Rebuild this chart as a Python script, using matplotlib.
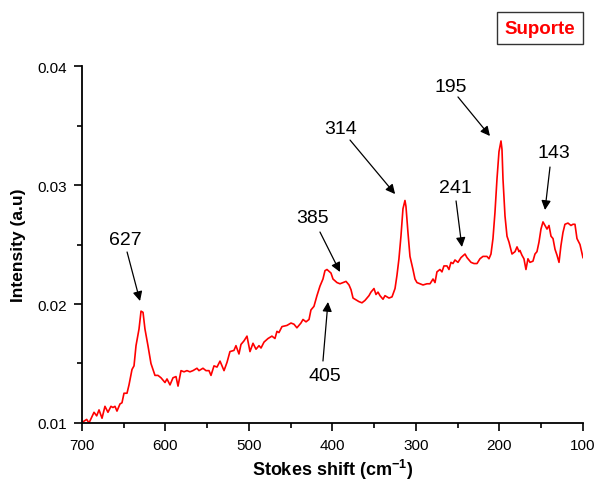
import matplotlib
matplotlib.use('Agg')
import matplotlib.pyplot as plt
import numpy as np

plt.rcParams['font.family'] = ['Liberation Sans', 'DejaVu Sans']
plt.rcParams['mathtext.fontset'] = 'custom'
plt.rcParams['mathtext.rm'] = 'Liberation Sans'
plt.rcParams['mathtext.bf'] = 'Liberation Sans:bold'

# spectrum
shift = [698.8, 694.4, 691.6, 685.6, 682.4, 679.6, 676.0, 672.5, 668.9, 665.3,
         662.9, 660.5, 658.1, 654.5, 652.1, 649.7, 646.1, 643.7, 640.1, 637.7,
         635.3, 631.7, 629.3, 626.9, 624.6, 621.0, 617.4, 615.0, 612.6, 609.0,
         605.4, 600.6, 598.2, 594.6, 591.0, 587.4, 585.0, 581.4, 577.8, 574.3,
         570.7, 567.1, 562.3, 559.9, 555.1, 551.5, 547.9, 545.5, 541.9, 538.3,
         534.7, 529.9, 526.3, 522.8, 518.0, 515.6, 512.0, 509.6, 506.0, 502.4,
         498.8, 495.2, 491.6, 488.0, 485.6, 482.0, 477.2, 472.5, 468.9, 466.5,
         464.1, 460.5, 454.5, 449.7, 446.1, 442.6, 437.8, 435.3, 431.7, 428.1,
         425.8, 422.2, 418.6, 415.0, 411.4, 409.0, 406.6, 401.8, 399.4, 394.6,
         391.0, 387.4, 383.8, 380.2, 377.8, 375.4, 370.7, 368.3, 364.7, 361.1,
         356.3, 353.9, 350.3, 347.9, 345.5, 343.1, 339.5, 337.1, 332.3, 328.7,
         325.1, 322.8, 320.4, 318.0, 315.6, 313.2, 312.0, 309.6, 307.2, 303.6,
         301.2, 298.8, 295.2, 291.6, 286.8, 283.2, 279.6, 277.2, 274.9, 271.3,
         268.9, 266.5, 262.9, 260.5, 258.1, 255.7, 253.3, 249.7, 246.1, 241.3,
         238.9, 234.1, 230.5, 226.9, 223.4, 219.8, 215.0, 212.6, 210.2, 207.8,
         205.4, 203.0, 200.6, 198.2, 197.0, 195.8, 193.4, 191.0, 188.6, 185.0,
         181.4, 179.0, 176.6, 175.5, 173.1, 170.7, 168.3, 165.9, 163.5, 159.9,
         157.5, 155.1, 152.7, 150.3, 147.9, 145.5, 143.1, 140.7, 138.3, 135.9,
         133.5, 131.1, 128.7, 126.4, 124.0, 121.6, 118.0, 114.4, 112.0, 109.6,
         107.2, 103.6, 100.0]
intensity = [0.0101, 0.0103, 0.0100, 0.0109, 0.0106, 0.0111, 0.0104, 0.0114, 0.0109, 0.0114,
             0.0113, 0.0114, 0.0110, 0.0116, 0.0117, 0.0125, 0.0125, 0.0132, 0.0145, 0.0148,
             0.0165, 0.0179, 0.0194, 0.0193, 0.0179, 0.0165, 0.0150, 0.0145, 0.0140, 0.0140,
             0.0138, 0.0134, 0.0137, 0.0132, 0.0138, 0.0139, 0.0131, 0.0144, 0.0143, 0.0144,
             0.0143, 0.0144, 0.0146, 0.0144, 0.0146, 0.0144, 0.0144, 0.0140, 0.0148, 0.0147,
             0.0152, 0.0144, 0.0151, 0.0160, 0.0161, 0.0165, 0.0158, 0.0166, 0.0169, 0.0173,
             0.0160, 0.0167, 0.0162, 0.0165, 0.0163, 0.0168, 0.0171, 0.0173, 0.0171, 0.0177,
             0.0176, 0.0181, 0.0182, 0.0184, 0.0183, 0.0180, 0.0184, 0.0187, 0.0185, 0.0187,
             0.0195, 0.0198, 0.0207, 0.0215, 0.0221, 0.0228, 0.0229, 0.0226, 0.0221, 0.0218,
             0.0217, 0.0218, 0.0219, 0.0216, 0.0212, 0.0205, 0.0203, 0.0202, 0.0201, 0.0203,
             0.0207, 0.0210, 0.0213, 0.0208, 0.0210, 0.0207, 0.0204, 0.0207, 0.0205, 0.0206,
             0.0213, 0.0224, 0.0238, 0.0257, 0.0280, 0.0287, 0.0282, 0.0260, 0.0240, 0.0229,
             0.0221, 0.0218, 0.0217, 0.0216, 0.0217, 0.0217, 0.0221, 0.0218, 0.0227, 0.0229,
             0.0227, 0.0232, 0.0232, 0.0229, 0.0235, 0.0234, 0.0237, 0.0235, 0.0239, 0.0242,
             0.0239, 0.0235, 0.0234, 0.0234, 0.0238, 0.0240, 0.0240, 0.0238, 0.0242, 0.0255,
             0.0277, 0.0305, 0.0328, 0.0337, 0.0330, 0.0305, 0.0274, 0.0257, 0.0252, 0.0242,
             0.0244, 0.0248, 0.0244, 0.0245, 0.0241, 0.0238, 0.0229, 0.0238, 0.0235, 0.0236,
             0.0242, 0.0244, 0.0252, 0.0263, 0.0269, 0.0266, 0.0263, 0.0266, 0.0257, 0.0255,
             0.0246, 0.0241, 0.0235, 0.0249, 0.0260, 0.0267, 0.0268, 0.0266, 0.0267, 0.0267,
             0.0255, 0.0250, 0.0239]

# peak labels: text position, arrow tail, arrow tip
labels = ['627', '385', '405', '314', '241', '195', '143']
text_xy = [(648.5, 0.02546), (423.4, 0.02731), (409.0, 0.01403), (389.8, 0.03479),
           (253.0, 0.02975), (258.0, 0.03832), (134.7, 0.03277)]
tail_xy = [(646.0, 0.02437), (415.0, 0.02605), (411.4, 0.01521), (379.0, 0.03378),
           (252.0, 0.02866), (249.7, 0.03740), (139.5, 0.03151)]
tip_xy = [(630.5, 0.02025), (391.0, 0.02269), (405.4, 0.02017), (325.0, 0.02924),
          (245.0, 0.02479), (211.4, 0.03412), (145.5, 0.02790)]

fig = plt.figure(figsize=(5.95, 4.85), dpi=100)
ax = fig.add_axes([0.1378, 0.1258, 0.842, 0.736])

ax.plot(shift, intensity, color='red', lw=1.2)

ax.set_xlim(700, 100)
ax.set_ylim(0.01, 0.04)
ax.set_xticks([700, 600, 500, 400, 300, 200, 100])
ax.set_xticks([650, 550, 450, 350, 250, 150], minor=True)
ax.set_yticks([0.01, 0.02, 0.03, 0.04])
ax.set_yticks([0.015, 0.025, 0.035], minor=True)
ax.set_yticklabels(['0.01', '0.02', '0.03', '0.04'])

for s in ['top', 'right']:
    ax.spines[s].set_visible(False)
for s in ['left', 'bottom']:
    ax.spines[s].set_linewidth(1.3)
ax.tick_params(which='major', direction='out', length=6, width=1.2, labelsize=11, pad=5)
ax.tick_params(which='minor', direction='out', length=3.5, width=1.2)

ax.set_xlabel(r'Stokes shift (cm$^{\mathbf{-1}}$)', fontsize=13, fontweight='bold', labelpad=3)
ax.set_ylabel('Intensity (a.u)', fontsize=12.5, fontweight='bold', labelpad=8)

for lab, t, a, b in zip(labels, text_xy, tail_xy, tip_xy):
    ax.text(t[0], t[1], lab, fontsize=14, ha='center', va='center')
    ax.annotate('', xy=b, xytext=a,
                arrowprops=dict(arrowstyle='-|>', color='black', lw=0.9,
                                mutation_scale=14, shrinkA=0, shrinkB=0))

fig.text(0.908, 0.9395, 'Suporte', color='red', fontsize=13.5, fontweight='bold',
         ha='center', va='center',
         bbox=dict(boxstyle='square,pad=0.4', fc='white', ec='#333333', lw=1.0))

fig.savefig('out.png', dpi=100)
